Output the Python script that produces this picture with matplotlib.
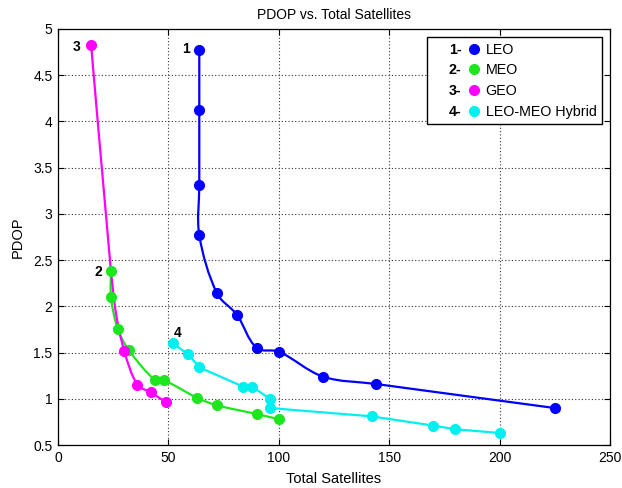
import numpy as np
import matplotlib
matplotlib.use("Agg")
import matplotlib.pyplot as plt
from matplotlib.path import Path
from matplotlib.patches import PathPatch
from matplotlib.lines import Line2D
from matplotlib.text import Text
from matplotlib.legend_handler import HandlerBase

plt.rcParams['font.family'] = ['Liberation Sans', 'DejaVu Sans']

# values
leo_x = [64, 64, 64, 64, 72, 81, 90, 100, 120, 144, 225]
leo_y = [4.77, 4.12, 3.31, 2.77, 2.14, 1.91, 1.55, 1.51, 1.24, 1.16, 0.90]
meo_x = [24, 24, 27, 32, 44, 48, 63, 72, 90, 100]
meo_y = [2.38, 2.10, 1.76, 1.53, 1.20, 1.20, 1.01, 0.93, 0.835, 0.78]
geo_x = [15, 30, 36, 42, 49]
geo_y = [4.83, 1.52, 1.15, 1.07, 0.96]
# extra points traced on the magenta curve (no marker there)
geo_line_x = [15, 21.7, 25.8, 30, 36, 42, 49]
geo_line_y = [4.83, 3.0, 2.0, 1.52, 1.15, 1.07, 0.96]
hyb_x = [52, 59, 64, 84, 88, 96, 96, 142, 170, 180, 200]
hyb_y = [1.60, 1.48, 1.34, 1.13, 1.13, 1.00, 0.90, 0.81, 0.71, 0.67, 0.63]

names = ['LEO', 'MEO', 'GEO', 'LEO-MEO Hybrid']
colors = ['#0000ff', '#1ee61e', '#ff00ff', '#00f0f0']

fig = plt.figure(figsize=(6.22, 4.88), dpi=100)
ax = fig.add_axes([0.0932, 0.0881, 0.8875, 0.8525])
ax.set_xlim(0, 250)
ax.set_ylim(0.5, 5)

# pixel scale so the curve tangents follow what is seen on screen
pos = ax.get_position()
sx = pos.width * 622 / 250
sy = pos.height * 488 / 4.5


def smooth_path(xs, ys):
    P = np.column_stack([np.asarray(xs, float) * sx, np.asarray(ys, float) * sy])
    n = len(P)

    def tang(i):
        if i == 0:
            v = P[1] - P[0]
        elif i == n - 1:
            v = P[-1] - P[-2]
        else:
            v = P[i + 1] - P[i - 1]
        return v / np.hypot(*v)

    verts = [P[0]]
    codes = [Path.MOVETO]
    for i in range(n - 1):
        a, b = P[i], P[i + 1]
        L = np.hypot(*(b - a))
        verts += [a + tang(i) * L / 3, b - tang(i + 1) * L / 3, b]
        codes += [Path.CURVE4] * 3
    verts = np.array(verts) / [sx, sy]
    return Path(verts, codes)


lw = 1.6
ms = 7
ax.add_patch(PathPatch(smooth_path(leo_x, leo_y), fc='none', ec=colors[0], lw=lw, zorder=2))
ax.plot(leo_x, leo_y, 'o', color=colors[0], ms=ms, zorder=3)
ax.add_patch(PathPatch(smooth_path(meo_x, meo_y), fc='none', ec=colors[1], lw=lw, zorder=2))
ax.plot(meo_x, meo_y, 'o', color=colors[1], ms=ms, zorder=3)
ax.add_patch(PathPatch(smooth_path(geo_line_x, geo_line_y), fc='none', ec=colors[2], lw=lw, zorder=2))
ax.plot(geo_x, geo_y, 'o', color=colors[2], ms=ms, zorder=3)
ax.plot(hyb_x, hyb_y, '-', color=colors[3], lw=lw, zorder=2)
ax.plot(hyb_x, hyb_y, 'o', color=colors[3], ms=ms, zorder=3)

lab_kw = dict(fontsize=10, fontweight='bold', va='center')
ax.text(59.6, 4.78, '1', ha='right', **lab_kw)
ax.text(19.8, 2.37, '2', ha='right', **lab_kw)
ax.text(10.3, 4.80, '3', ha='right', **lab_kw)
ax.text(54.3, 1.71, '4', ha='center', **lab_kw)

ax.set_xticks([0, 50, 100, 150, 200, 250])
ax.set_yticks([0.5, 1, 1.5, 2, 2.5, 3, 3.5, 4, 4.5, 5])
ax.set_yticklabels(['0.5', '1', '1.5', '2', '2.5', '3', '3.5', '4', '4.5', '5'])
ax.tick_params(direction='in', top=True, right=True, length=4, labelsize=10, pad=4)
ax.grid(True, color='#333333', linestyle=(0, (1, 2)), linewidth=0.8)
ax.set_axisbelow(True)
for s in ax.spines.values():
    s.set_linewidth(0.9)

ax.set_title('PDOP vs. Total Satellites', fontsize=10, pad=7)
ax.set_xlabel('Total Satellites', fontsize=10.5, labelpad=5)
ax.set_ylabel('PDOP', fontsize=10.5, labelpad=6)


class NumHandler(HandlerBase):
    def __init__(self, num):
        super().__init__()
        self.num = num

    def create_artists(self, legend, orig_handle, xdescent, ydescent,
                       width, height, fontsize, trans):
        yc = height / 2 - ydescent
        t = Text(-xdescent + width * 0.345, yc - 0.36 * fontsize, f'{self.num}-',
                 ha='left', va='baseline', fontsize=fontsize, fontweight='bold',
                 transform=trans)
        m = Line2D([-xdescent + width * 0.884], [yc], marker='o', ms=ms, ls='none',
                   color=orig_handle.get_color(), transform=trans)
        return [t, m]


handles = [Line2D([], [], marker='o', ls='none', color=c) for c in colors]
hmap = {h: NumHandler(i + 1) for i, h in enumerate(handles)}
leg = ax.legend(handles, names, handler_map=hmap, loc='upper right', fontsize=10.3,
                handlelength=3.24, handletextpad=0.45, borderpad=0.4, labelspacing=0.47,
                borderaxespad=0.55, fancybox=False, framealpha=1, edgecolor='black')
leg.get_frame().set_linewidth(1.0)

fig.savefig('out.png', dpi=100)
